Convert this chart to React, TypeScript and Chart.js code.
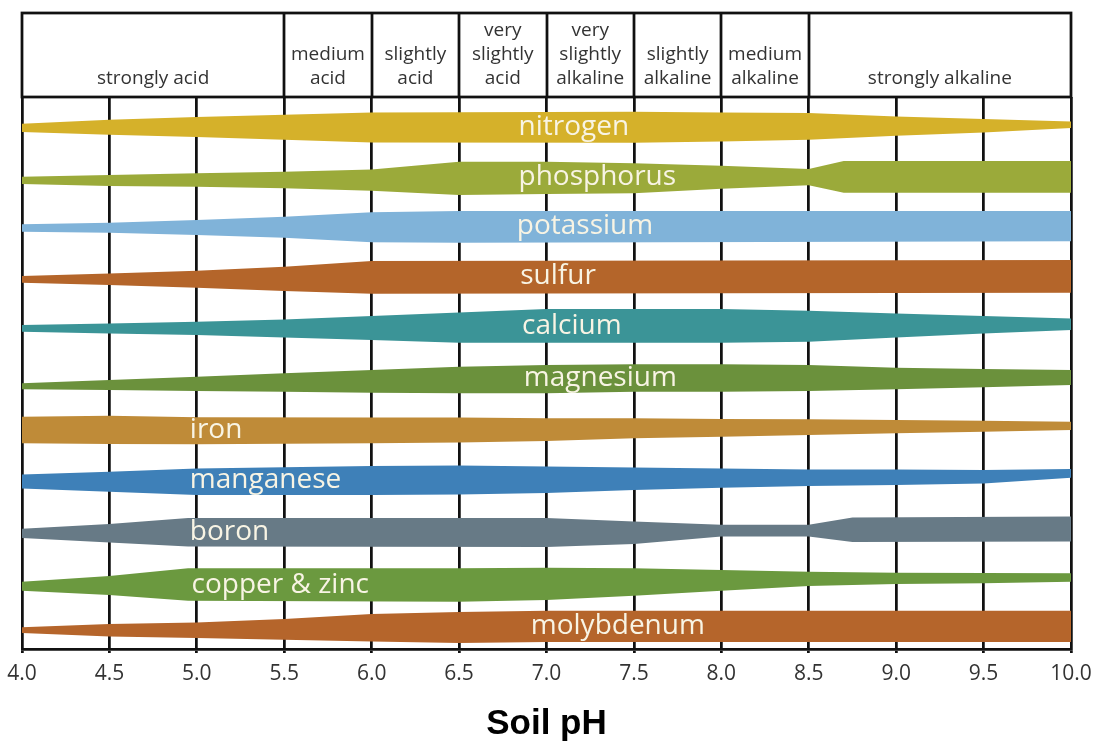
import React, { useEffect, useRef } from "react";
import { Chart, registerables } from "chart.js";

Chart.register(...registerables);

// ---------- data ----------
const nutrients = [
  "nitrogen", "phosphorus", "potassium", "sulfur", "calcium", "magnesium",
  "iron", "manganese", "boron", "copper & zinc", "molybdenum",
];
// centre line of every band, in row units (0 = top of plot, 1 row per band)
const rowCenter = [0.61, 1.6, 2.59, 3.59, 4.58, 5.62, 6.66, 7.67, 8.7, 9.76, 10.59];
// pH at which each name starts
const labelPh = [6.84, 6.84, 6.83, 6.85, 6.86, 6.87, 4.96, 4.96, 4.96, 4.97, 6.91];

// availability profiles: extent above (up) and below (down) the centre line, in rows
const nitrogenPh = [4, 4.5, 5, 5.5, 6, 7.5, 8, 8.5, 9, 9.5, 10];
const nitrogenUp = [0.074, 0.154, 0.208, 0.254, 0.3, 0.314, 0.3, 0.288, 0.22, 0.168, 0.12];
const nitrogenDown = [0.092, 0.146, 0.192, 0.246, 0.3, 0.306, 0.28, 0.246, 0.166, 0.1, 0.012];

const phosphorusPh = [4, 4.5, 5, 5.5, 6, 6.5, 7, 7.5, 8, 8.5, 8.7, 10];
const phosphorusUp = [0.006, 0.04, 0.074, 0.106, 0.15, 0.306, 0.306, 0.274, 0.226, 0.16, 0.32, 0.32];
const phosphorusDown = [0.14, 0.18, 0.194, 0.226, 0.274, 0.36, 0.34, 0.326, 0.234, 0.166, 0.314, 0.314];

const potassiumPh = [4, 4.5, 5, 5.5, 6, 6.5, 10];
const potassiumUp = [0.044, 0.076, 0.13, 0.196, 0.284, 0.31, 0.31];
const potassiumDown = [0.104, 0.124, 0.17, 0.224, 0.316, 0.324, 0.296];

const sulfurPh = [4, 4.5, 5, 5.5, 6, 10];
const sulfurUp = [0.008, 0.062, 0.114, 0.194, 0.31, 0.328];
const sulfurDown = [0.126, 0.172, 0.226, 0.292, 0.345, 0.326];

const calciumPh = [4, 4.5, 5, 5.5, 6, 6.5, 7, 8, 8.5, 9, 9.5, 10];
const calciumUp = [0.018, 0.052, 0.084, 0.132, 0.198, 0.272, 0.338, 0.338, 0.304, 0.252, 0.198, 0.152];
const calciumDown = [0.116, 0.148, 0.182, 0.228, 0.282, 0.336, 0.336, 0.336, 0.316, 0.228, 0.148, 0.082];

const magnesiumPh = [4, 4.5, 5, 5.5, 6, 6.5, 7, 7.5, 8, 8.5, 9, 9.5, 10];
const magnesiumUp = [-0.106, -0.04, 0.026, 0.094, 0.16, 0.226, 0.26, 0.274, 0.274, 0.26, 0.206, 0.18, 0.16];
const magnesiumDown = [0.226, 0.24, 0.26, 0.274, 0.294, 0.306, 0.306, 0.274, 0.274, 0.26, 0.226, 0.186, 0.14];

const ironPh = [4, 4.5, 5, 6, 6.5, 7, 7.5, 8, 8.5, 9, 9.5, 10];
const ironUp = [0.266, 0.285, 0.256, 0.248, 0.25, 0.234, 0.234, 0.22, 0.214, 0.2, 0.186, 0.166];
const ironDown = [0.266, 0.28, 0.284, 0.266, 0.25, 0.22, 0.166, 0.134, 0.1, 0.066, 0.034, 0];

const manganesePh = [4, 4.5, 5, 6, 6.5, 7, 7.5, 8, 8.5, 9, 9.5, 10];
const manganeseUp = [0.122, 0.174, 0.242, 0.29, 0.3, 0.28, 0.262, 0.242, 0.222, 0.222, 0.208, 0.228];
const manganeseDown = [0.158, 0.226, 0.292, 0.292, 0.278, 0.25, 0.192, 0.146, 0.112, 0.092, 0.058, -0.054];

const boronPh = [4, 4.5, 4.95, 7, 7.5, 8, 8.5, 8.75, 10];
const boronUp = [0.064, 0.158, 0.278, 0.278, 0.21, 0.144, 0.144, 0.29, 0.31];
const boronDown = [0.122, 0.21, 0.29, 0.3, 0.242, 0.09, 0.09, 0.202, 0.19];

const copperZincPh = [4, 4.5, 4.95, 6.5, 7, 7.5, 8, 8.5, 9, 9.5, 10];
const copperZincUp = [0.066, 0.18, 0.334, 0.334, 0.346, 0.334, 0.3, 0.266, 0.246, 0.24, 0.234];
const copperZincDown = [0.114, 0.2, 0.314, 0.334, 0.3, 0.214, 0.114, 0.02, -0.02, -0.034, -0.066];

const molybdenumPh = [4, 4.5, 5, 5.5, 6, 6.5, 7, 10];
const molybdenumUp = [-0.014, 0.048, 0.08, 0.148, 0.248, 0.288, 0.314, 0.314];
const molybdenumDown = [0.132, 0.2, 0.232, 0.266, 0.3, 0.332, 0.312, 0.312];

const bandPh = [nitrogenPh, phosphorusPh, potassiumPh, sulfurPh, calciumPh, magnesiumPh,
  ironPh, manganesePh, boronPh, copperZincPh, molybdenumPh];
const bandUp = [nitrogenUp, phosphorusUp, potassiumUp, sulfurUp, calciumUp, magnesiumUp,
  ironUp, manganeseUp, boronUp, copperZincUp, molybdenumUp];
const bandDown = [nitrogenDown, phosphorusDown, potassiumDown, sulfurDown, calciumDown, magnesiumDown,
  ironDown, manganeseDown, boronDown, copperZincDown, molybdenumDown];

// soil reaction classes along the top
const classBounds = [4, 5.5, 6, 6.5, 7, 7.5, 8, 8.5, 10];
const classLines = [
  ["strongly acid"],
  ["medium", "acid"],
  ["slightly", "acid"],
  ["very", "slightly", "acid"],
  ["very", "slightly", "alkaline"],
  ["slightly", "alkaline"],
  ["medium", "alkaline"],
  ["strongly alkaline"],
];

const phMin = 4;
const phMax = 10;
const phStep = 0.5;
const axisTitle = "Soil pH";

// ---------- styles ----------
const bandColors = [
  "#d5b12a", "#9baa3a", "#80b3d9", "#b4652a", "#3b9497", "#6b913c",
  "#bf8b38", "#3e80b8", "#677a86", "#6b993f", "#b5652b",
];
const W = 1093;
const H = 742;
const PAD_TOP = 97;
const PAD_SIDE = 22;
const HEADER_H = 84;
const AXIS_H = 93;
const ROWS_SPAN = 11.04;
const LINE = "#111";
const TEXT = "#333";
const SANS = '"Open Sans", "Noto Sans", sans-serif';

const headerPlugin = {
  id: "phHeader",
  afterDraw(chart: any) {
    const { ctx, chartArea, scales } = chart;
    const x = scales.x;
    const bottom = chartArea.top;
    const top = bottom - HEADER_H;
    ctx.save();
    ctx.strokeStyle = LINE;
    ctx.lineWidth = 2.75;
    const l = x.getPixelForValue(classBounds[0]);
    const r = x.getPixelForValue(classBounds[classBounds.length - 1]);
    ctx.strokeRect(l, top, r - l, bottom - top);
    ctx.beginPath();
    for (let i = 1; i < classBounds.length - 1; i++) {
      const px = Math.round(x.getPixelForValue(classBounds[i]));
      ctx.moveTo(px, top);
      ctx.lineTo(px, bottom);
    }
    ctx.stroke();
    ctx.fillStyle = TEXT;
    ctx.font = `19px ${SANS}`;
    ctx.textAlign = "center";
    ctx.textBaseline = "middle";
    classLines.forEach((lines, i) => {
      const cx = (x.getPixelForValue(classBounds[i]) + x.getPixelForValue(classBounds[i + 1])) / 2;
      const n = lines.length;
      lines.forEach((t, k) => {
        ctx.fillText(t, cx, bottom - 18 - (n - 1 - k) * 24);
      });
    });
    ctx.restore();
  },
};

const labelPlugin = {
  id: "bandLabels",
  afterDatasetsDraw(chart: any) {
    const { ctx, scales } = chart;
    ctx.save();
    ctx.fillStyle = "#f8f4e4";
    ctx.font = `28px ${SANS}`;
    ctx.textAlign = "left";
    ctx.textBaseline = "middle";
    nutrients.forEach((name, i) => {
      ctx.fillText(name, scales.x.getPixelForValue(labelPh[i]), scales.y.getPixelForValue(rowCenter[i]));
    });
    ctx.restore();
  },
};

export default function App() {
  const ref = useRef<HTMLCanvasElement | null>(null);

  useEffect(() => {
    if (!ref.current) return;
    const datasets: any[] = [];
    nutrients.forEach((name, i) => {
      const xs = bandPh[i];
      datasets.push({
        label: name + " upper",
        data: xs.map((p, j) => ({ x: p, y: rowCenter[i] - bandUp[i][j] })),
        borderColor: "rgba(0,0,0,0)",
        borderWidth: 0,
        pointRadius: 0,
        tension: 0,
        fill: false,
      });
      datasets.push({
        label: name,
        data: xs.map((p, j) => ({ x: p, y: rowCenter[i] + bandDown[i][j] })),
        borderColor: "rgba(0,0,0,0)",
        borderWidth: 0,
        pointRadius: 0,
        tension: 0,
        backgroundColor: bandColors[i],
        fill: "-1",
      });
    });

    const chart = new Chart(ref.current, {
      type: "line",
      data: { datasets },
      plugins: [headerPlugin, labelPlugin],
      options: {
        animation: false,
        responsive: false,
        events: [],
        layout: { padding: { top: PAD_TOP, left: PAD_SIDE, right: PAD_SIDE, bottom: 0 } },
        plugins: {
          legend: { display: false },
          tooltip: { enabled: false },
        },
        scales: {
          x: {
            type: "linear",
            min: phMin,
            max: phMax,
            ticks: {
              stepSize: phStep,
              autoSkip: false,
              maxRotation: 0,
              padding: 8,
              color: TEXT,
              font: { family: SANS, size: 21 },
              callback: (v: any) => Number(v).toFixed(1),
            },
            grid: { color: LINE, lineWidth: 2.75, drawTicks: true, tickLength: 4 },
            border: { color: LINE, width: 2.75 },
            title: {
              display: true,
              text: axisTitle,
              color: "#000",
              font: { family: '"Liberation Sans", Arial, sans-serif', size: 35, weight: "bold", lineHeight: 1 },
              padding: { top: 0, bottom: 0 },
            },
            afterFit: (s: any) => {
              s.height = AXIS_H;
              s.paddingLeft = 0;
              s.paddingRight = 0;
            },
          },
          y: {
            type: "linear",
            display: false,
            min: 0,
            max: ROWS_SPAN,
            reverse: true,
          },
        },
      } as any,
    });
    return () => chart.destroy();
  }, []);

  return (
    <div style={{ position: "fixed", left: 0, top: 0, width: W, height: H, background: "#fff" }}>
      <canvas ref={ref} width={W} height={H} style={{ display: "block", width: W, height: H }} />
    </div>
  );
}
